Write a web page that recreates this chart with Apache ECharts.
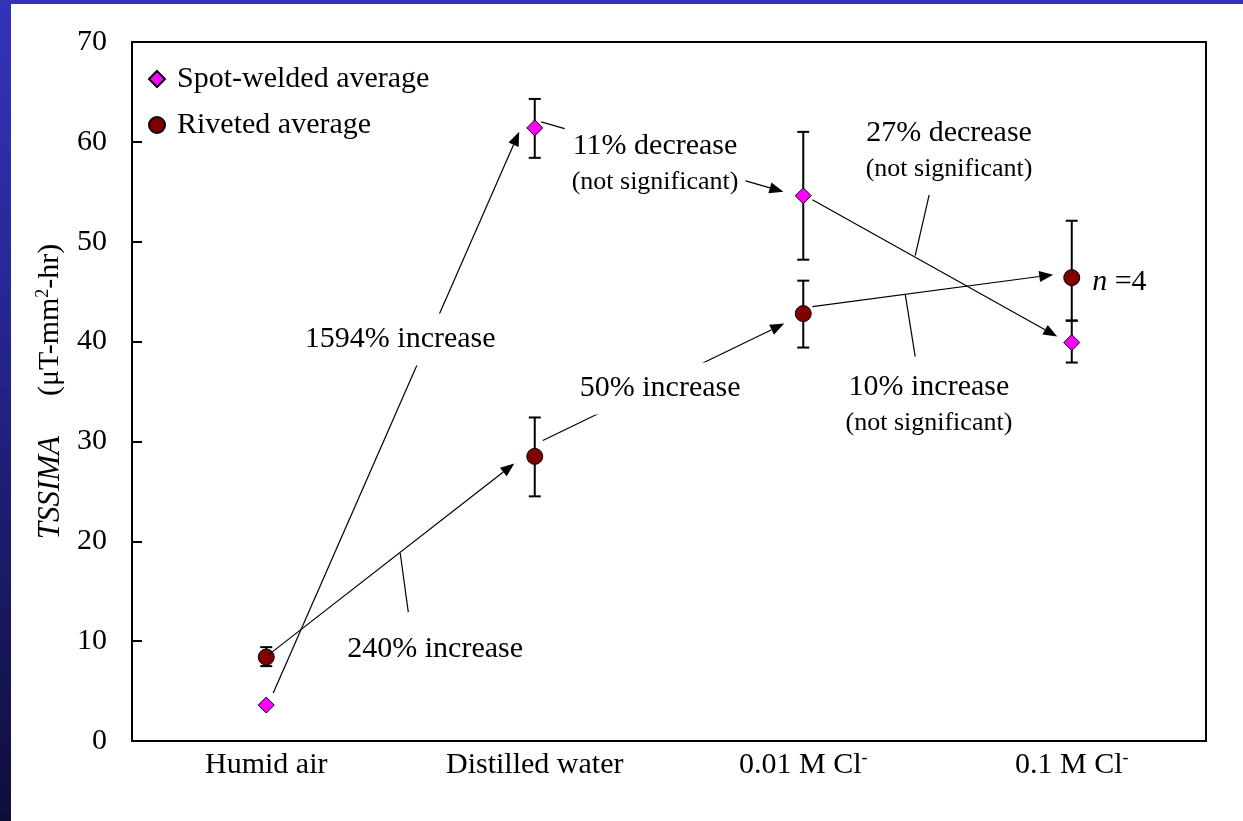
<!DOCTYPE html>
<html>
<head>
<meta charset="utf-8">
<script src="https://cdn.jsdelivr.net/npm/echarts@6/dist/echarts.min.js"></script>
<style>
  html, body { margin: 0; padding: 0; width: 1243px; height: 821px; overflow: hidden; }
  body { background: linear-gradient(to bottom, #3434bb 0%, #23238a 45%, #0f0e3a 100%); position: relative; }
  #chart { position: absolute; left: 11px; top: 4px; width: 1232px; height: 817px; background: #fff; }
</style>
</head>
<body>
<div id="chart"></div>
<script>
// ---- data ----
const categories = ['Humid air', 'Distilled water', '0.01 M Cl-', '0.1 M Cl-'];
const yTicks = [0, 10, 20, 30, 40, 50, 60, 70];
const spotWelded = [3.6, 61.4, 54.6, 39.9];
const spotLow = [null, 58.4, 48.2, 37.9];
const spotHigh = [null, 64.3, 61.0, 42.1];
const riveted = [8.4, 28.5, 42.8, 46.4];
const rivLow = [7.5, 24.5, 39.4, 42.1];
const rivHigh = [9.4, 32.4, 46.1, 52.1];

// annotation arrows (data units: x = category index, y = TSSIMA)
const arrowFrom = [[0.026, 4.8], [0.007, 8.6], [1.030, 30.1], [1.024, 62.0], [2.034, 54.2], [2.034, 43.5]];
const arrowTo   = [[0.942, 61.0], [0.924, 27.8], [1.929, 41.8], [1.926, 55.0], [2.946, 40.5], [2.931, 46.7]];
// leader lines
const leaderFrom = [[0.499, 18.8], [2.417, 48.6], [2.380, 44.7]];
const leaderTo   = [[0.529, 12.9], [2.469, 54.7], [2.417, 38.5]];
// annotation texts
const noteMain = ['1594% increase', '240% increase', '50% increase', '11% decrease', '27% decrease', '10% increase'];
const noteSub  = ['', '', '', '(not significant)', '(not significant)', '(not significant)'];
const notePos  = [[0.499, 40.2], [0.629, 9.2], [1.467, 35.3], [1.448, 57.8], [2.543, 59.1], [2.468, 33.6]];
const nNote = { text: 'n', rest: ' =4', pos: [3.076, 46.0] };

const FONT = '"Liberation Serif", "Times New Roman", serif';

const chart = echarts.init(document.getElementById('chart'), null, { renderer: 'canvas' });

function errData(low, high) {
  const out = [];
  low.forEach((l, i) => { if (l != null) out.push([i, l, high[i]]); });
  return out;
}

function renderErr(params, api) {
  const x = api.value(0);
  const lo = api.coord([x, api.value(1)]);
  const hi = api.coord([x, api.value(2)]);
  const w = 6;
  const st = { stroke: '#000', lineWidth: 2 };
  return {
    type: 'group',
    children: [
      { type: 'line', shape: { x1: lo[0], y1: lo[1], x2: hi[0], y2: hi[1] }, style: st },
      { type: 'line', shape: { x1: lo[0] - w, y1: lo[1], x2: lo[0] + w, y2: lo[1] }, style: st },
      { type: 'line', shape: { x1: hi[0] - w, y1: hi[1], x2: hi[0] + w, y2: hi[1] }, style: st }
    ]
  };
}

function renderArrow(params, api) {
  const p1 = api.coord([api.value(0), api.value(1)]);
  const p2 = api.coord([api.value(2), api.value(3)]);
  const dx = p2[0] - p1[0], dy = p2[1] - p1[1];
  const len = Math.sqrt(dx * dx + dy * dy);
  const ux = dx / len, uy = dy / len;
  const hl = 14, hw = 5.5;
  const bx = p2[0] - ux * hl, by = p2[1] - uy * hl;
  return {
    type: 'group',
    children: [
      { type: 'line', shape: { x1: p1[0], y1: p1[1], x2: bx, y2: by }, style: { stroke: '#000', lineWidth: 1.2 } },
      { type: 'polygon', shape: { points: [[p2[0], p2[1]], [bx - uy * hw, by + ux * hw], [bx + uy * hw, by - ux * hw]] }, style: { fill: '#000' } }
    ]
  };
}

function renderLeader(params, api) {
  const p1 = api.coord([api.value(0), api.value(1)]);
  const p2 = api.coord([api.value(2), api.value(3)]);
  return { type: 'line', shape: { x1: p1[0], y1: p1[1], x2: p2[0], y2: p2[1] }, style: { stroke: '#000', lineWidth: 1.2 } };
}

const noteRich = {
  a: { fontFamily: FONT, fontSize: 30, lineHeight: 36, color: '#000' },
  b: { fontFamily: FONT, fontSize: 26, lineHeight: 36, color: '#000' },
  i: { fontFamily: FONT, fontSize: 30, fontStyle: 'italic', lineHeight: 36, color: '#000' }
};

function renderNote(params, api) {
  const i = params.dataIndex;
  const p = api.coord([api.value(0), api.value(1)]);
  let txt = '{a|' + noteMain[i] + '}';
  if (noteSub[i]) txt += '\n{b|' + noteSub[i] + '}';
  return {
    type: 'text',
    x: p[0], y: p[1],
    style: {
      text: txt, rich: noteRich, align: 'center', verticalAlign: 'middle',
      backgroundColor: '#fff', padding: [8, 7], fill: '#000'
    }
  };
}

function renderN(params, api) {
  const p = api.coord([api.value(0), api.value(1)]);
  return {
    type: 'text', x: p[0], y: p[1],
    style: { text: '{i|' + nNote.text + '}{a|' + nNote.rest + '}', rich: noteRich, align: 'left', verticalAlign: 'middle', fill: '#000' }
  };
}

const option = {
  backgroundColor: '#fff',
  animation: false,
  grid: { left: 121, right: 37, top: 38, bottom: 80, show: true, borderColor: '#000', borderWidth: 2, backgroundColor: 'transparent' },
  legend: {
    data: ['Spot-welded average', 'Riveted average'],
    orient: 'vertical', left: 132, top: 55,
    itemWidth: 16, itemHeight: 16, itemGap: 16,
    textStyle: { fontFamily: FONT, fontSize: 30, color: '#000', lineHeight: 30, padding: [0, 0, 0, 7] }
  },
  xAxis: [
    {
      type: 'category', data: categories, boundaryGap: true,
      axisLine: { onZero: false, lineStyle: { color: '#000', width: 2 } },
      axisTick: { show: false },
      axisLabel: {
        margin: 8, color: '#000',
        formatter: v => v.endsWith('-') ? '{n|' + v.slice(0, -1) + '}{sup|-}' : '{n|' + v + '}',
        rich: {
          n: { fontFamily: FONT, fontSize: 30, color: '#000', lineHeight: 32 },
          sup: { fontFamily: FONT, fontSize: 18, color: '#000', lineHeight: 18, verticalAlign: 'top' }
        }
      },
      splitLine: { show: false }
    },
    { type: 'value', min: -0.5, max: 3.5, show: false }
  ],
  yAxis: {
    type: 'value', min: yTicks[0], max: yTicks[yTicks.length - 1], interval: 10,
    axisLine: { show: true, onZero: false, lineStyle: { color: '#000', width: 2 } },
    axisTick: { show: true, inside: true, length: 10, lineStyle: { color: '#000', width: 2 } },
    axisLabel: { margin: 25, fontFamily: FONT, fontSize: 30, color: '#000' },
    splitLine: { show: false },
    name: '{it|TSSIMA}{gap|}{n|(μT-mm}{sup|2}{n|-hr)}',
    nameLocation: 'middle', nameGap: 64, nameRotate: 90,
    nameTextStyle: {
      rich: {
        it: { fontFamily: FONT, fontSize: 31, fontStyle: 'italic', color: '#000', lineHeight: 32 },
        gap: { width: 40 },
        n: { fontFamily: FONT, fontSize: 30, color: '#000', lineHeight: 32 },
        sup: { fontFamily: FONT, fontSize: 18, color: '#000', lineHeight: 18, verticalAlign: 'top' }
      }
    }
  },
  series: [
    { type: 'custom', name: 'spotErr', xAxisIndex: 0, renderItem: renderErr, data: errData(spotLow, spotHigh), z: 2, silent: true },
    { type: 'custom', name: 'rivErr', xAxisIndex: 0, renderItem: renderErr, data: errData(rivLow, rivHigh), z: 2, silent: true },
    {
      type: 'scatter', name: 'Spot-welded average', xAxisIndex: 0, symbol: 'diamond', symbolSize: 16,
      itemStyle: { color: '#ff00ff', borderColor: '#000', borderWidth: 1, opacity: 1 },
      data: spotWelded, z: 3
    },
    {
      type: 'scatter', name: 'Riveted average', xAxisIndex: 0, symbol: 'circle', symbolSize: 16,
      itemStyle: { color: '#800000', borderColor: '#000', borderWidth: 1, opacity: 1 },
      data: riveted, z: 3
    },
    {
      type: 'custom', name: 'arrows', xAxisIndex: 1, renderItem: renderArrow, z: 4, silent: true,
      data: arrowFrom.map((f, i) => [f[0], f[1], arrowTo[i][0], arrowTo[i][1]])
    },
    {
      type: 'custom', name: 'leaders', xAxisIndex: 1, renderItem: renderLeader, z: 4, silent: true,
      data: leaderFrom.map((f, i) => [f[0], f[1], leaderTo[i][0], leaderTo[i][1]])
    },
    { type: 'custom', name: 'notes', xAxisIndex: 1, renderItem: renderNote, z: 5, silent: true, data: notePos },
    { type: 'custom', name: 'nnote', xAxisIndex: 1, renderItem: renderN, z: 5, silent: true, data: [nNote.pos] }
  ]
};

chart.setOption(option);
</script>
</body>
</html>
